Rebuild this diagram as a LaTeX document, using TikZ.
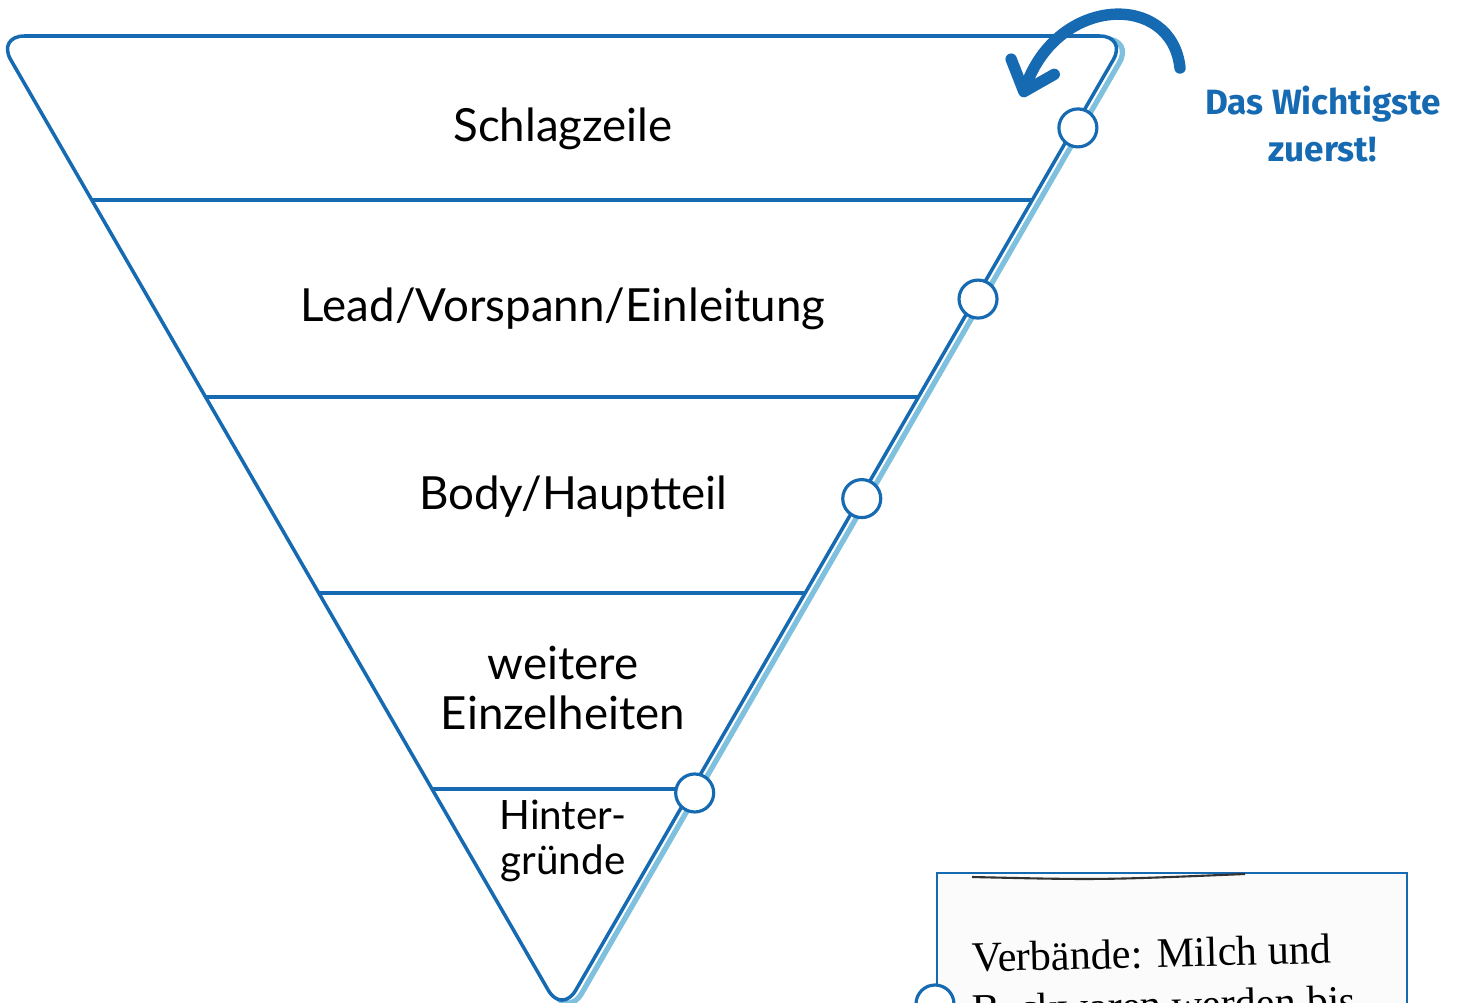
\documentclass[tikz,border=0pt]{standalone}
\usepackage{fontspec}
\setmainfont{Lato}
\newfontfamily\handfont{Fira Sans}
\newfontfamily\newsfont{Liberation Serif}
\usepackage{tikz}
\usetikzlibrary{arrows.meta,positioning,calc}
\definecolor{pyrblue}{RGB}{22,106,178}
\definecolor{pyrshadow}{RGB}{126,192,222}

\begin{document}
\begin{tikzpicture}[x=0.02cm,y=-0.02cm,>=Latex]
\tikzstyle{layer}=[align=center, font=\fontsize{26}{29}\selectfont, inner sep=0pt]
\tikzstyle{dot}=[circle, draw=pyrblue, fill=white, line width=1.8pt, minimum size=0.76cm, inner sep=0pt]
\tikzstyle{edge}=[draw=pyrblue, line width=2pt]
\useasboundingbox (0,0) rectangle (1461,1003);

% corners of the pyramid
\coordinate (tl) at (-3,36);
\coordinate (tr) at (1127,36);
\coordinate (tip) at (562,1014);

% shadow, then outline
\draw[pyrshadow, line width=3pt, rounded corners=0.55cm] ([shift={(6,3)}]tl) -- ([shift={(6,3)}]tr) -- ([shift={(6,3)}]tip) -- cycle;
\draw[edge, fill=white, rounded corners=0.55cm] (tl) -- (tr) -- (tip) -- cycle;

% layer borders
\foreach \t in {0.1677,0.369,0.5695,0.770}
  \draw[edge] ($(tl)!\t!(tip)$) -- ($(tr)!\t!(tip)$);

\node[layer] (headline) at (563,129) {Schlagzeile};
\node[layer] (lead) at (563,309) {Lead/Vorspann/Einleitung};
\node[layer] (body) at (573,497) {Body/Hauptteil};
\node[layer] (details) at (563,688) {weitere\\Einzelheiten};
\node[layer, font=\fontsize{23}{26}\selectfont] (background) at (563,841) {Hinter-\\gründe};

% markers on the right edge
\node[dot] (m1) at ($(tr)!0.094!(tip)+(4,0)$) {};
\node[dot] (m2) at ($(tr)!0.269!(tip)+(3,0)$) {};
\node[dot] (m3) at ($(tr)!0.473!(tip)+(2,0)$) {};
\node[dot] (m4) at ($(tr)!0.774!(tip)+(5,0)$) {};

% curved arrow and note
\coordinate (arrowstart) at (1180,68);
\coordinate (arrowtip) at (1022,97);
\draw[pyrblue, line width=6.5pt, line cap=round, -{Straight Barb[round, length=15pt, width=26pt]}] (arrowstart) .. controls (1172,-8) and (1058,-5) .. (arrowtip);
\node[align=center, text=pyrblue, font=\handfont\bfseries\fontsize{20}{27}\selectfont] (note) at (1323,124) {Das Wichtigste\\zuerst!};

% newspaper clipping
\node[draw=pyrblue, line width=1.3pt, fill=gray!3, anchor=north west, inner sep=0pt, minimum width=9.4cm, minimum height=3cm] (scan) at (936,872) {};
\draw[black!80, line width=1.2pt] (972,877) .. controls (1100,880) .. (1245,874);
\node[font=\newsfont\fontsize{24}{29}\selectfont, anchor=base west, rotate=1.4, inner sep=0pt] (scanline1) at (972,972) {Verbände: Milch und};
\node[font=\newsfont\fontsize{24}{29}\selectfont, anchor=base west, rotate=1.4, inner sep=0pt] (scanline2) at (972,1024) {Backwaren werden bis};
\node[dot] (scandot) at (935,1004) {};
\end{tikzpicture}
\end{document}
